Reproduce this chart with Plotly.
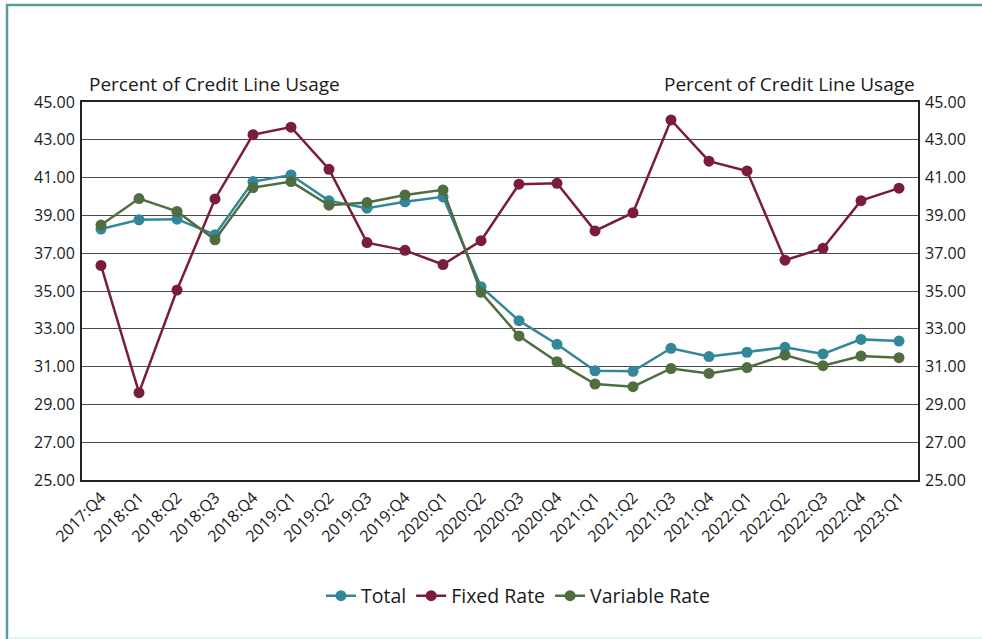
import plotly.graph_objects as go

quarters = ["2017:Q4", "2018:Q1", "2018:Q2", "2018:Q3", "2018:Q4",
            "2019:Q1", "2019:Q2", "2019:Q3", "2019:Q4",
            "2020:Q1", "2020:Q2", "2020:Q3", "2020:Q4",
            "2021:Q1", "2021:Q2", "2021:Q3", "2021:Q4",
            "2022:Q1", "2022:Q2", "2022:Q3", "2022:Q4", "2023:Q1"]

total = [38.28, 38.77, 38.80, 37.98, 40.79, 41.14, 39.77, 39.38, 39.72, 39.98,
         35.23, 33.43, 32.18, 30.78, 30.75, 31.97, 31.53, 31.76, 32.02, 31.67,
         32.44, 32.35]
fixed_rate = [36.35, 29.62, 35.05, 39.87, 43.27, 43.67, 41.44, 37.56, 37.15, 36.40,
              37.66, 40.65, 40.70, 38.18, 39.14, 44.05, 41.87, 41.35, 36.63, 37.26,
              39.78, 40.44]
variable_rate = [38.49, 39.89, 39.21, 37.71, 40.47, 40.79, 39.54, 39.68, 40.08, 40.35,
                 34.93, 32.62, 31.26, 30.08, 29.94, 30.90, 30.64, 30.95, 31.61, 31.05,
                 31.56, 31.47]

y_ticks = [25, 27, 29, 31, 33, 35, 37, 39, 41, 43, 45]
axis_title = "Percent of Credit Line Usage"

FONT = "Open Sans"
C_TOTAL = "#33879A"
C_FIXED = "#7A1D3B"
C_VAR = "#4F6D3F"

fig = go.Figure()
for name, vals, col in [("Total", total, C_TOTAL),
                        ("Fixed Rate", fixed_rate, C_FIXED),
                        ("Variable Rate", variable_rate, C_VAR)]:
    fig.add_trace(go.Scatter(x=quarters, y=vals, name=name, mode="lines+markers",
                             line=dict(color=col, width=2.5),
                             marker=dict(color=col, size=11, symbol="circle")))

# invisible trace to carry the right axis
fig.add_trace(go.Scatter(x=quarters, y=total, yaxis="y2", showlegend=False,
                         mode="lines", line=dict(width=0), opacity=0, hoverinfo="skip"))

tick_text = ["%.2f" % v for v in y_ticks]
fig.update_layout(
    width=982, height=639,
    margin=dict(l=82, r=64, t=102, b=159),
    paper_bgcolor="white", plot_bgcolor="white",
    font=dict(family=FONT, size=15, color="#1a1a1a"),
    xaxis=dict(type="category", tickangle=-45, showgrid=False,
               showline=True, linecolor="#222", linewidth=2, mirror=True,
               ticks="", tickfont=dict(size=16), range=[-0.5, len(quarters) - 0.5]),
    yaxis=dict(range=[25, 45], tickvals=y_ticks, ticktext=tick_text,
               showgrid=True, gridcolor="#4a4a4a", gridwidth=1,
               showline=True, linecolor="#222", linewidth=2, mirror=True,
               ticks="", tickfont=dict(size=16), zeroline=False, ticklabelstandoff=2),
    yaxis2=dict(range=[25, 45], tickvals=y_ticks, ticktext=tick_text,
                overlaying="y", side="right", showgrid=False,
                showline=False, ticks="", tickfont=dict(size=16), zeroline=False,
                ticklabelstandoff=6),
    legend=dict(orientation="h", x=0.5215, xanchor="center", y=-0.307, yanchor="middle",
                font=dict(size=19.5), itemwidth=30, tracegroupgap=0),
    showlegend=True,
)

fig.add_annotation(text=axis_title, xref="paper", yref="paper", x=0.006, y=1.008,
                   xanchor="left", yanchor="bottom", showarrow=False, font=dict(size=19))
fig.add_annotation(text=axis_title, xref="paper", yref="paper", x=0.9988, y=1.008,
                   xanchor="right", yanchor="bottom", showarrow=False, font=dict(size=19))

# outer frame (teal on top/left, pale on bottom)
pw, ph = 836.0, 378.0
def px(xp): return (xp - 82) / pw
def py(yp): return (480 - yp) / ph
fig.add_shape(type="line", xref="paper", yref="paper", x0=px(6), x1=px(982), y0=py(5), y1=py(5),
              line=dict(color="#5A9C98", width=2.5))
fig.add_shape(type="line", xref="paper", yref="paper", x0=px(7), x1=px(7), y0=py(4), y1=py(639),
              line=dict(color="#5A9C98", width=2.5))
fig.add_shape(type="line", xref="paper", yref="paper", x0=px(8), x1=px(982), y0=py(638), y1=py(638),
              line=dict(color="#DDEEEA", width=1.5))

fig.write_html("out.html", config={"displayModeBar": False},
               post_script="document.body.style.margin='0';document.body.style.overflow='hidden';")
